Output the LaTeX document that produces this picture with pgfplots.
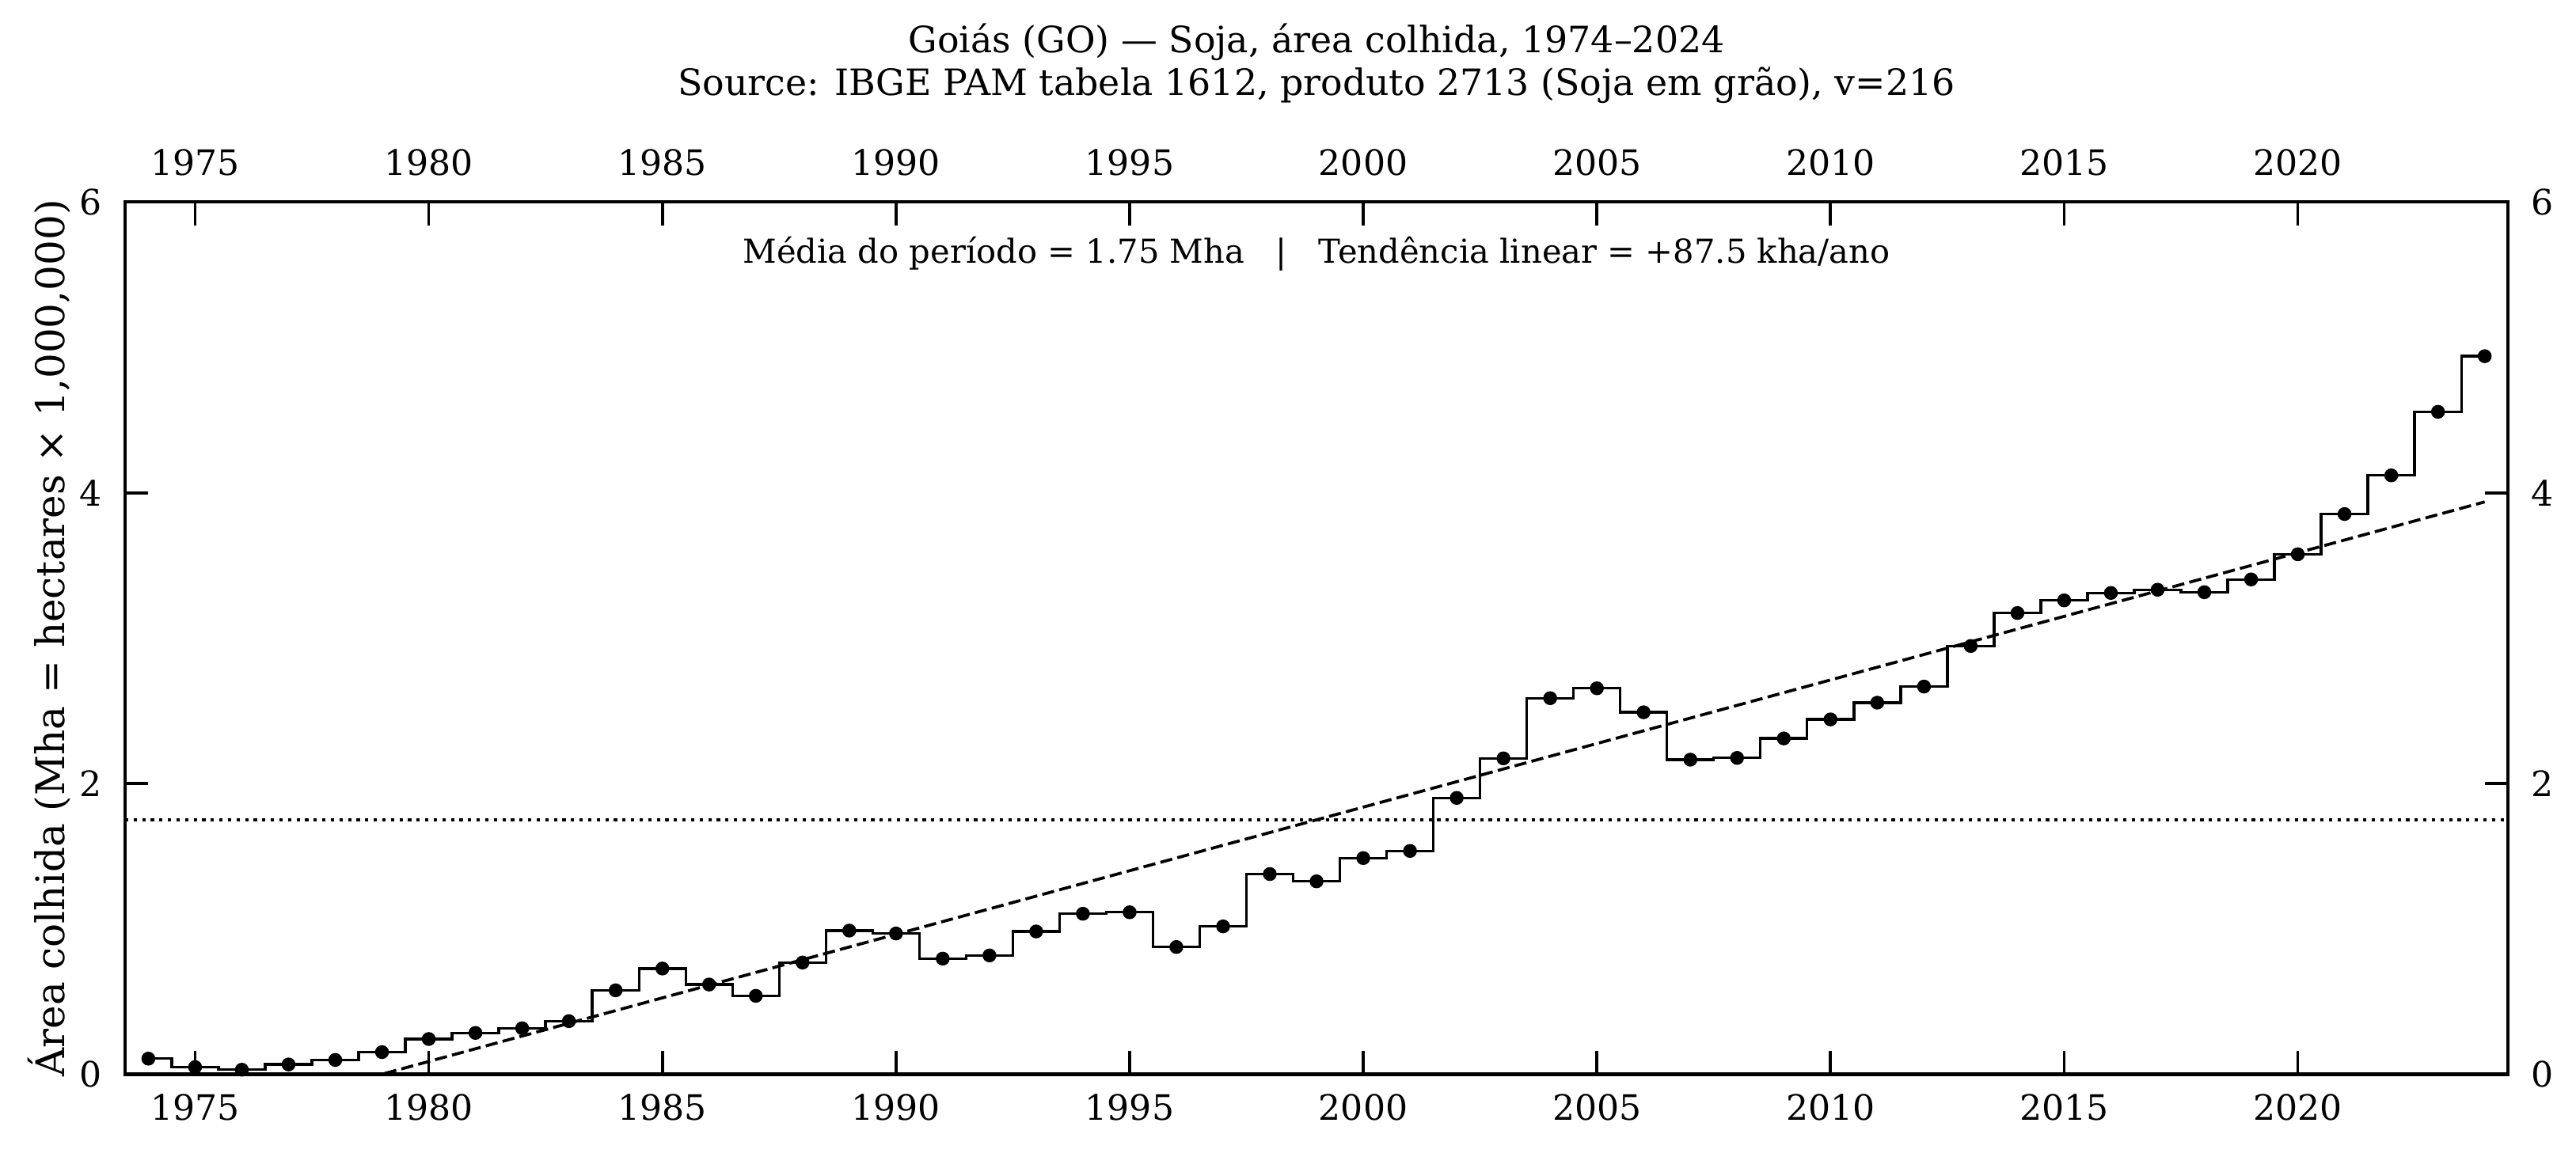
\documentclass[border=0pt]{standalone}
\usepackage{pgfplots}
\pgfplotsset{compat=1.18}
\usepackage{pgfplotstable}
\usepackage{fontspec}
\setmainfont{DejaVu Serif}

% Soybean harvested area in Goiás (million hectares), IBGE PAM
\pgfplotstableread{
year area
1974 0.107
1975 0.049
1976 0.031
1977 0.067
1978 0.098
1979 0.152
1980 0.242
1981 0.284
1982 0.316
1983 0.365
1984 0.577
1985 0.727
1986 0.617
1987 0.539
1988 0.768
1989 0.988
1990 0.968
1991 0.795
1992 0.817
1993 0.982
1994 1.104
1995 1.114
1996 0.875
1997 1.017
1998 1.377
1999 1.327
2000 1.487
2001 1.536
2002 1.901
2003 2.173
2004 2.587
2005 2.655
2006 2.490
2007 2.164
2008 2.176
2009 2.310
2010 2.441
2011 2.556
2012 2.667
2013 2.946
2014 3.173
2015 3.260
2016 3.311
2017 3.333
2018 3.316
2019 3.404
2020 3.577
2021 3.854
2022 4.120
2023 4.557
2024 4.940
}\areadata

\newcommand{\ticksize}{\fontsize{10.6}{12.7}\selectfont}

\pgfplotsset{
  frame/.style={
    width=722.5pt, height=264.5pt, scale only axis,
    xmin=1973.5, xmax=2024.5, ymin=0, ymax=6,
    xtick={1975,1980,...,2020}, ytick={0,2,4,6},
    minor tick num=0,
    /pgf/number format/1000 sep={},
    /pgf/number format/assume math mode=true,
    tick label style={font=\ticksize},
    tick align=inside,
    major tick length=7pt,
  },
}

\begin{document}
\begin{tikzpicture}
\useasboundingbox (-37.9pt,-23.9pt) rectangle (743.1pt,325.8pt);

% main frame, data and reference lines
\begin{axis}[frame,
  xticklabel pos=lower, yticklabel pos=left,
  xtick pos=both, ytick pos=both,
  axis line style={line width=1pt},
  major tick style={line width=0.9pt, black},
  xticklabel style={yshift=-2.5pt},
  yticklabel style={xshift=-3.5pt},
]
  \addplot[black, line width=0.9pt, dash pattern=on 1pt off 1.6pt]
    coordinates {(1973.5,1.75) (2024.5,1.75)};
  \addplot[black, line width=0.9pt, dash pattern=on 3.7pt off 1.6pt]
    coordinates {(1974,-0.4375) (2024,3.9375)};
  \addplot[black, line width=0.8pt, const plot mark mid]
    table[x=year, y=area] {\areadata};
  \addplot[black, only marks, mark=*, mark size=1.9pt]
    table[x=year, y=area] {\areadata};
  \node[anchor=base, font=\fontsize{10}{12}\selectfont]
    at (rel axis cs:0.5,1) [yshift=-18.4pt]
    {Média do período = 1.75 Mha\ \ \ |\ \ \ Tendência linear = +87.5 kha/ano};
\end{axis}

% mirrored tick labels on the top and right sides
\begin{axis}[frame,
  xticklabel pos=upper, yticklabel pos=right,
  axis line style={draw=none},
  major tick style={draw=none},
  xticklabel style={yshift=4.5pt},
  yticklabel style={xshift=3.5pt},
]
\end{axis}

\node[anchor=base, font=\fontsize{11}{13}\selectfont] at (361.25pt,309.8pt)
  {Goiás (GO) — Soja, área colhida, 1974–2024};
\node[anchor=base, font=\fontsize{11}{13}\selectfont] at (361.25pt,296.9pt)
  {Source: IBGE PAM tabela 1612, produto 2713 (Soja em grão), v=216};
\node[rotate=90, anchor=center, font=\fontsize{12}{14}\selectfont] at (-23pt,132.25pt)
  {Área colhida (Mha = hectares × 1,000,000)};
\end{tikzpicture}
\end{document}
